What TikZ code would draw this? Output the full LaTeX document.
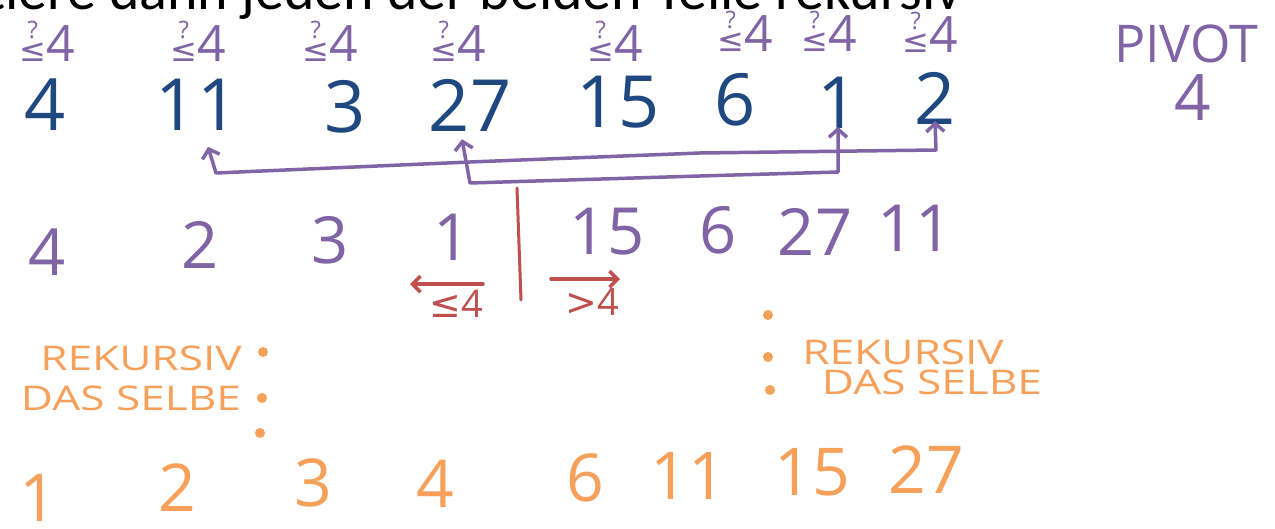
\documentclass[tikz,border=0pt]{standalone}
\usepackage{fontspec}
\setmainfont{Open Sans}
\newfontfamily\topfont{Carlito}
\newfontfamily\symfont{DejaVu Sans}
\newfontfamily\handfont[FakeStretch=1.3]{Open Sans}
\usetikzlibrary{arrows.meta,calc}
\definecolor{hblue}{RGB}{32,72,128}
\definecolor{hpurple}{RGB}{128,100,166}
\definecolor{hred}{RGB}{192,80,77}
\definecolor{horange}{RGB}{247,160,90}
\newcommand\qle{\shortstack{{\fontsize{24}{24}\selectfont ?}\\[2pt]{\symfont\fontsize{32}{32}\selectfont ≤}}}
\tikzset{
  bluedig/.style={text=hblue, font=\fontsize{72}{72}\selectfont, inner sep=0pt},
  purpdig/.style={text=hpurple, font=\fontsize{65}{65}\selectfont, inner sep=0pt},
  orangedig/.style={text=horange, font=\fontsize{66}{66}\selectfont, inner sep=0pt},
  cmp/.style={text=hpurple, font=\fontsize{50}{50}\selectfont, inner sep=0pt, anchor=base},
  redlabel/.style={text=hred, font=\fontsize{38}{38}\selectfont, inner sep=0pt},
  orangetext/.style={text=horange, font=\handfont\fontsize{34}{34}\selectfont, inner sep=0pt},
  odot/.style={circle, fill=horange, minimum size=10pt, inner sep=0pt},
  swaparrow/.style={draw=hpurple, line width=3.5pt, line join=round, line cap=round,
    {Straight Barb[length=8pt,width=18pt]}-{Straight Barb[length=8pt,width=18pt]}},
  redarrow/.style={draw=hred, line width=3.5pt, line cap=round, -{Straight Barb[length=8pt,width=16pt]}},
  redline/.style={draw=hred, line width=3pt, line cap=round},
}
\begin{document}
\begin{tikzpicture}[x=1pt,y=-1pt]
\useasboundingbox (0,0) rectangle (1275,529);
\clip (0,0) rectangle (1275,529);
\fill[white] (0,0) rectangle (1275,529);

% cut-off heading
\node[anchor=base east, inner sep=0pt, font=\topfont\fontsize{58}{58}\selectfont] (head) at (962,10) {Sortiere dann jeden der beiden Teile rekursiv};

% comparison marks
\node[cmp] (q1) at (47,62) {\qle 4};
\node[cmp] (q2) at (198,62) {\qle 4};
\node[cmp] (q3) at (330,62) {\qle 4};
\node[cmp] (q4) at (458,62) {\qle 4};
\node[cmp] (q5) at (615,62) {\qle 4};
\node[cmp] (q6) at (745,52) {\qle 4};
\node[cmp] (q7) at (829,52) {\qle 4};
\node[cmp] (q8) at (930,53) {\qle 4};

% pivot
\node[text=hpurple, font=\fontsize{52}{52}\selectfont, inner sep=0pt] (pivot) at (1186,44) {PIVOT};
\node[text=hpurple, font=\fontsize{64}{64}\selectfont, inner sep=0pt] (pivval) at (1193,98) {4};

% original array
\node[bluedig] (b4) at (45,105) {4};
\node[bluedig] (b11) at (197,105) {11};
\node[bluedig] (b3) at (345,107) {3};
\node[bluedig] (b27) at (470,105) {27};
\node[bluedig] (b15) at (618,102) {15};
\node[bluedig] (b6) at (735,100) {6};
\node[bluedig] (b1) at (838,103) {1};
\node[bluedig] (b2) at (935,98) {2};

% swaps
\draw[swaparrow] ($(b11.south)+(11,16)$) -- (216,173) -- (470,162) -- (700,153) -- (936,150) -- ($(b2.south)+(0,-3)$);
\draw[swaparrow] ($(b27.south)+(-8,8)$) -- (470,183) -- (700,176) -- (838,172) -- ($(b1.south)+(0,-2)$);

% partitioned array
\node[purpdig] (p4) at (47,252) {4};
\node[purpdig] (p2) at (200,245) {2};
\node[purpdig] (p3) at (330,240) {3};
\node[purpdig] (p1) at (452,237) {1};
\node[purpdig] (p15) at (607,232) {15};
\node[purpdig] (p6) at (718,230) {6};
\node[purpdig] (p27) at (815,232) {27};
\node[purpdig] (p11) at (915,228) {11};

% split
\draw[redline] (517,188) -- (521,300);
\node[redlabel] (le) at (456,304) {{\symfont ≤}4};
\node[redlabel] (gt) at (592,302) {{\symfont >}4};
\draw[redarrow] ($(le.north)+(27,-6)$) -- ($(le.north)+(-46,-6)$);
\draw[redarrow] ($(gt.north)+(-41,-9)$) -- ($(gt.north)+(28,-9)$);

% recursion notes
\node[orangetext] (rl1) at (141,358) {REKURSIV};
\node[orangetext] (rl2) at (131,398) {DAS SELBE};
\node[odot] (dl1) at (263,352) {};
\node[odot] (dl2) at (262,398) {};
\node[odot] (dl3) at (260,433) {};
\node[odot] (dr1) at (768,315) {};
\node[odot] (dr2) at (768,357) {};
\node[odot] (dr3) at (770,390) {};
\node[orangetext] (rr1) at (903,352) {REKURSIV};
\node[orangetext] (rr2) at (932,382) {DAS SELBE};

% sorted result
\node[orangedig] (o1) at (38,498) {1};
\node[orangedig] (o2) at (177,488) {2};
\node[orangedig] (o3) at (313,483) {3};
\node[orangedig] (o4) at (435,484) {4};
\node[orangedig] (o6) at (585,478) {6};
\node[orangedig] (o11) at (688,476) {11};
\node[orangedig] (o15) at (812,472) {15};
\node[orangedig] (o27) at (926,470) {27};
\end{tikzpicture}
\end{document}
